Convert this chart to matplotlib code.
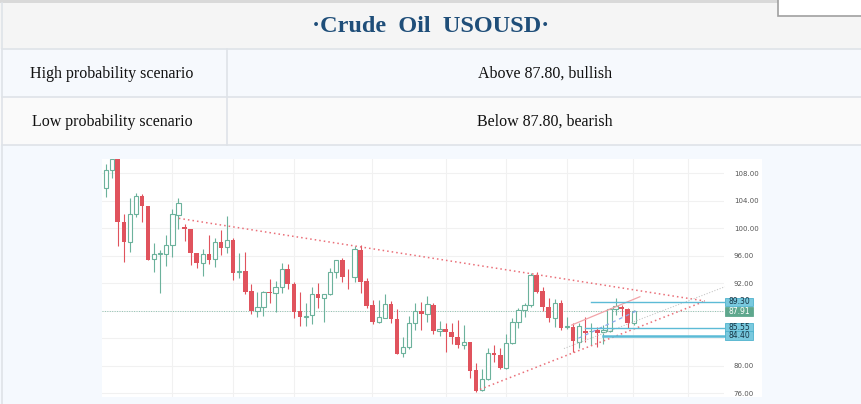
import matplotlib; matplotlib.use("Agg")
import matplotlib.pyplot as plt, numpy as np
from matplotlib.patches import Rectangle
from matplotlib.transforms import blended_transform_factory

# table text
title = "·Crude  Oil  USOUSD·"
row_labels = ["High probability scenario", "Low probability scenario"]
row_values = ["Above 87.80, bullish", "Below 87.80, bearish"]

# daily candles
opens = [105.91,108.48,110.2,100.96,98.05,102.13,104.65,103.19,95.58,96.3,96.26,97.52,101.88,100.14,99.9,96.36,94.9,96.21,95.48,98.0,
         97.23,98.25,93.7,93.84,90.88,87.97,88.5,90.73,90.54,91.41,94.03,91.9,87.92,87.05,87.34,90.39,89.81,90.39,93.69,95.34,
         92.96,92.91,96.84,92.33,88.84,86.42,87.0,88.99,86.85,81.86,82.69,86.17,88.02,87.53,88.84,85.11,85.35,84.96,84.24,83.02,
         83.51,79.39,76.48,78.03,81.91,81.57,79.63,83.27,86.32,88.12,88.84,93.16,90.88,88.6,87.0,89.08,85.64,85.69,83.51,85.01,
         85.01,85.2,84.96,85.11,88.21,88.6,88.26,86.27]
highs = [109.3,110.6,110.5,102.03,104.45,105.08,104.94,103.29,97.86,96.9,98.98,102.76,104.45,100.57,99.96,96.36,96.94,99.02,98.54,99.7,
         101.79,98.54,96.36,96.5,91.9,90.68,90.93,92.62,92.38,95.0,94.81,92.14,90.68,89.18,91.46,92.09,90.45,94.17,95.4,95.68,
         94.03,97.47,97.62,92.72,89.57,89.57,90.39,89.47,88.26,84.24,87.19,89.18,89.33,90.15,89.18,86.56,86.17,86.17,86.66,85.93,
         83.51,80.36,79.48,82.54,83.02,82.54,84.58,86.9,88.45,89.08,93.45,93.6,91.41,89.91,89.71,89.52,87.05,86.17,86.17,87.05,
         86.17,85.6,85.93,88.36,89.81,88.84,88.45,88.12]
lows = [104.55,107.27,97.47,95.14,96.6,101.59,100.96,95.34,93.69,90.64,94.56,95.87,99.9,98.2,94.66,94.27,93.11,94.76,94.32,96.1,
        96.41,92.48,92.72,90.39,87.58,87.05,87.29,89.08,87.78,90.59,91.17,86.9,85.79,85.84,86.08,88.45,86.42,90.3,92.82,92.24,
        91.12,92.24,90.64,88.36,86.03,86.27,86.9,86.27,81.67,81.23,82.44,85.2,85.2,86.42,84.62,84.33,82.05,83.12,82.54,82.44,
        78.18,76.14,76.33,77.93,80.5,79.53,79.53,83.17,85.54,87.05,88.6,90.54,87.97,86.42,85.69,85.2,85.35,82.05,82.64,83.51,
        83.02,82.78,83.17,84.96,87.39,87.29,85.45,85.93]
closes = [108.48,110.1,100.87,98.05,102.13,104.65,103.29,95.44,96.26,96.4,97.57,102.03,103.73,99.9,96.36,94.9,96.21,95.39,98.05,97.18,
          98.25,93.55,93.84,90.78,87.97,88.5,90.68,90.54,91.41,94.03,91.85,87.82,87.05,87.29,90.39,89.81,90.39,93.64,95.34,92.91,
          92.86,96.94,92.24,88.74,86.42,87.05,88.94,86.85,81.76,82.69,86.17,88.02,87.53,88.94,85.11,85.35,84.96,84.24,83.02,83.46,
          79.29,76.33,78.03,81.91,81.57,79.63,83.27,86.32,88.12,88.84,93.16,90.78,88.6,87.0,89.08,85.54,85.79,83.6,85.84,84.72,
          85.11,84.72,85.2,88.21,88.7,88.26,86.27,87.91]
last_price = 87.91
price_ticks = [76, 80, 84, 88, 92, 96, 100, 104, 108]
month_grid = [11, 21, 31, 43.9, 56, 66, 76, 86.9, 95.9]

# drawn lines (bar index, price)
resist_x, resist_y = [12.06, 98.7], [101.45, 89.43]
support_x, support_y = [61.66, 98.45], [76.58, 89.32]
gray_x, gray_y = [75.5, 102.0], [82.51, 91.5]
pink_x, pink_y = [76.77, 88.0], [85.93, 90.05]
blue_x, blue_y = [77.86, 87.75], [84.0, 88.12]
levels = [89.30, 85.55, 84.40]
level_start = [79.87, 78.96, 81.93]
level_lw = [1.0, 1.0, 1.8]

W, H = 862, 404
fig = plt.figure(figsize=(W/100, H/100), dpi=100)
bg = fig.add_axes([0, 0, 1, 1]); bg.set_xlim(0, W); bg.set_ylim(H, 0); bg.axis("off")
line_c = "#dfe3e8"
bg.add_patch(Rectangle((0, 0), W, 3, color="#d9d9d9", lw=0))
bg.add_patch(Rectangle((0, 3), W, 46, color="#f5f5f5", lw=0))
bg.add_patch(Rectangle((0, 49), W, 48, color="#f6f9fd", lw=0))
bg.add_patch(Rectangle((0, 97), W, 48, color="#fafafa", lw=0))
bg.add_patch(Rectangle((0, 145), W, H-145, color="#f5f9fe", lw=0))
for y in [49, 97, 145]:
    bg.plot([2, W], [y, y], color=line_c, lw=1.2)
bg.plot([2.5, 2.5], [3, H], color=line_c, lw=1.2)
bg.plot([227.5, 227.5], [49, 145], color=line_c, lw=1.2)
bg.text(431, 26, title, ha="center", va="center", family="Liberation Serif", weight="bold",
        fontsize=17.5, color="#1f4e79")
for k, (a, b) in enumerate(zip(row_labels, row_values)):
    yc = 74 + 47.5*k
    bg.text(112, yc, a, ha="center", va="center", family="Liberation Serif", fontsize=11.5, color="#111")
    bg.text(545, yc, b, ha="center", va="center", family="Liberation Serif", fontsize=11.5, color="#111")
bg.add_patch(Rectangle((778, -2), 90, 18, fc="white", ec="#a0a0a0", lw=1.2))
bg.add_patch(Rectangle((102, 159), 660, 238, color="white", lw=0))

# chart
ax = fig.add_axes([102/W, 1-397/H, 622/W, 238/H])
ax.set_facecolor("white")
for s in ax.spines.values(): s.set_visible(False)
ax.set_xlim(-0.6, 101.86); ax.set_ylim(75.47, 110.08)
ax.set_xticks([])
ax.yaxis.tick_right()
# tick labels under the level boxes are hidden, as in the chart
hidden = [t for t in price_ticks if min(abs(t - v) for v in levels + [last_price]) < 1.2]
ax.set_yticks(price_ticks, ["" if t in hidden else f"{t:.2f}" for t in price_ticks])
ax.tick_params(axis="y", length=0, pad=7, labelsize=5, labelcolor="#555555")
ax.grid(axis="y", color="#f1f1f1", lw=0.8); ax.set_axisbelow(True)
for g in month_grid: ax.axvline(g, color="#f1f1f1", lw=0.8, zorder=0)

o, h, l, c = map(np.array, (opens, highs, lows, closes))
x = np.arange(len(o)); up = c >= o
green, red = "#6cb29c", "#e0535d"
ax.vlines(x[up], l[up], h[up], color=green, lw=0.8, zorder=2)
ax.vlines(x[~up], l[~up], h[~up], color=red, lw=0.8, zorder=2)
ax.bar(x[up], np.maximum(c[up]-o[up], 0.12), 0.7, bottom=o[up], facecolor="white", edgecolor=green, lw=0.8, zorder=3)
ax.bar(x[~up], np.maximum(o[~up]-c[~up], 0.12), 0.76, bottom=c[~up], color=red, lw=0, zorder=3)

ax.axhline(last_price, color="#8fc2b1", lw=0.7, ls=(0, (1, 1.5)), zorder=1)
ax.plot(resist_x, resist_y, color="#ea6f78", lw=1.1, ls=(0, (1, 2)), zorder=4)
ax.plot(support_x, support_y, color="#ea6f78", lw=1.1, ls=(0, (1, 2)), zorder=4)
ax.plot(gray_x, gray_y, color="#c8c8c8", lw=0.8, ls=(0, (1, 1.5)), zorder=4, clip_on=False)
ax.plot(pink_x, pink_y, color="#f2a3a8", lw=0.9, zorder=4)
ax.plot(blue_x, blue_y, color="#8aa8ee", lw=0.9, ls=(0, (3, 3)), zorder=4)
for v, s, w in zip(levels, level_start, level_lw):
    ax.plot([s, 101.86], [v, v], color="#5cbbd6", lw=w, zorder=5, clip_on=False)

tr = blended_transform_factory(ax.transAxes, ax.transData)
bw, bh = 28/622, 8.6/6.875
for v in levels + [last_price]:
    cur = v == last_price
    ax.add_patch(Rectangle((1.0016, v - bh/2), bw, bh, transform=tr, clip_on=False, zorder=6,
                           fc="#5ea78d" if cur else "#79c9de", ec="#5ea78d" if cur else "#4fb2cd", lw=0.6))
    ax.text(1.0016 + bw/2, v, f"{v:.2f}", transform=tr, ha="center", va="center", fontsize=5.5,
            color="white" if cur else "#163444", zorder=7)

fig.savefig("out.png", dpi=100)
